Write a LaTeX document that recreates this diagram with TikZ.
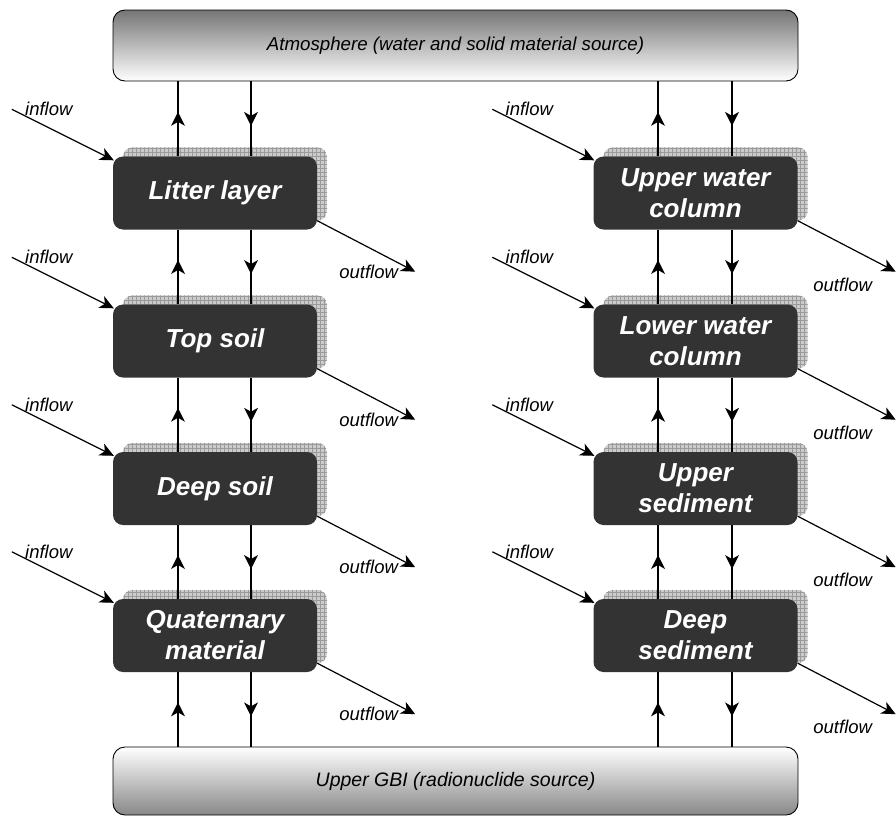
\documentclass[tikz,border=0pt]{standalone}
\usepackage{fontspec}
\setmainfont{Liberation Sans}
\usetikzlibrary{calc,arrows.meta,decorations.markings,backgrounds}

\definecolor{boxgray}{HTML}{333333}
\definecolor{shadowgray}{HTML}{CCCCCC}
\definecolor{gridgray}{HTML}{9A9A9A}

\tikzset{
  compartment/.style={fill=boxgray, rounded corners=10pt, minimum width=204pt,
    minimum height=73pt, text=white, align=center, inner sep=0pt,
    font=\fontsize{26}{31}\selectfont\bfseries\itshape},
  source/.style={draw=black, line width=0.9pt, rounded corners=12pt,
    minimum width=685pt, inner sep=0pt, font=\fontsize{19.5}{23}\selectfont\itshape},
  flowlabel/.style={inner sep=0pt, font=\fontsize{18.5}{22}\selectfont\itshape},
  flowline/.style={line width=1.2pt, line cap=butt},
  midtip/.style={flowline, postaction={decorate},
    decoration={markings, mark=at position 0.5 with
      {\fill (7,0) -- (-7,7) -- (-3,0) -- (-7,-7) -- cycle;}}},
  endtip/.style={flowline, -{Stealth[length=14pt,width=13pt,inset=4pt]}}
}

% hatched shadow behind a compartment
\newcommand\gridshadow[1]{%
  \begin{scope}
    \clip[rounded corners=10pt] ($(#1.south west)+(10,-9)$) rectangle ($(#1.north east)+(10,-9)$);
    \fill[shadowgray] ($(#1.south west)+(10,-9)$) rectangle ($(#1.north east)+(10,-9)$);
    \draw[gridgray, line width=0.35pt, step=4pt] ($(#1.south west)+(8,-5)$) grid ($(#1.north east)+(14,-13)$);
  \end{scope}}

\begin{document}
\begin{tikzpicture}[x=1pt, y=-1pt]
\useasboundingbox (0,0) rectangle (896,819);

% sources
\node[source, minimum height=71pt, top color=black!54, bottom color=white,
  font=\fontsize{18.7}{22}\selectfont\itshape]
  (atmo) at (455.5,45.5) {Atmosphere (water and solid material source)};
\node[source, minimum height=68pt, top color=white, bottom color=black!47]
  (gbi) at (455.5,781) {Upper GBI (radionuclide source)};

% compartments
\node[compartment] (litter)   at (215,193)   {Litter layer};
\node[compartment] (topsoil)  at (215,341)   {Top soil};
\node[compartment] (deepsoil) at (215,488.5) {Deep soil};
\node[compartment] (quat)     at (215,635.5) {Quaternary\\material};
\node[compartment] (upwater)  at (695.5,193)   {Upper water\\column};
\node[compartment] (lowwater) at (695.5,341)   {Lower water\\column};
\node[compartment] (upsed)    at (695.5,488.5) {Upper\\sediment};
\node[compartment] (deepsed)  at (695.5,635.5) {Deep\\sediment};

\begin{scope}[on background layer]
  \foreach \b in {litter,topsoil,deepsoil,quat,upwater,lowwater,upsed,deepsed}
    {\gridshadow{\b}}
\end{scope}

% x positions of the vertical exchange lines
\coordinate (lu) at (178,0);
\coordinate (ld) at (251,0);
\coordinate (ru) at (658,0);
\coordinate (rd) at (732,0);

% vertical exchanges: upper -- lower pairs
\foreach \up/\lo/\u/\d in {atmo/litter/lu/ld, litter/topsoil/lu/ld,
    topsoil/deepsoil/lu/ld, deepsoil/quat/lu/ld,
    atmo/upwater/ru/rd, upwater/lowwater/ru/rd,
    lowwater/upsed/ru/rd, upsed/deepsed/ru/rd}{
  \draw[midtip] (\lo.north -| \u) -- (\up.south -| \u);
  \draw[midtip] (\up.south -| \d) -- (\lo.north -| \d);
}
\foreach \lo/\u/\d in {quat/lu/ld, deepsed/ru/rd}{
  \draw[midtip] (gbi.north -| \u) -- (\lo.south -| \u);
  \draw[midtip] (\lo.south -| \d) -- (gbi.north -| \d);
}

% inflows
\foreach \b in {litter,topsoil,deepsoil,quat,upwater,lowwater,upsed,deepsed}{
  \coordinate (\b-in) at ($(\b.north west)+(-101,-47)$);
  \draw[endtip] (\b-in) -- ($(\b.north west)+(1,4)$);
  \node[flowlabel] (\b-inlabel) at ($(\b-in)+(37,0)$) {inflow};
}

% outflows
\foreach \b in {litter,topsoil,deepsoil,quat,upwater,lowwater,upsed,deepsed}{
  \coordinate (\b-out) at ($(\b.south east)+(98,42)$);
  \draw[endtip] ($(\b.south east)+(0,-9)$) -- (\b-out);
}
\foreach \b in {litter,topsoil,deepsoil,quat}
  \node[flowlabel, anchor=east] (\b-outlabel) at ($(\b-out)+(-17,0)$) {outflow};
\foreach \b in {upwater,lowwater,upsed,deepsed}
  \node[flowlabel] (\b-outlabel) at ($(\b-out)+(-53,13)$) {outflow};

\end{tikzpicture}
\end{document}
